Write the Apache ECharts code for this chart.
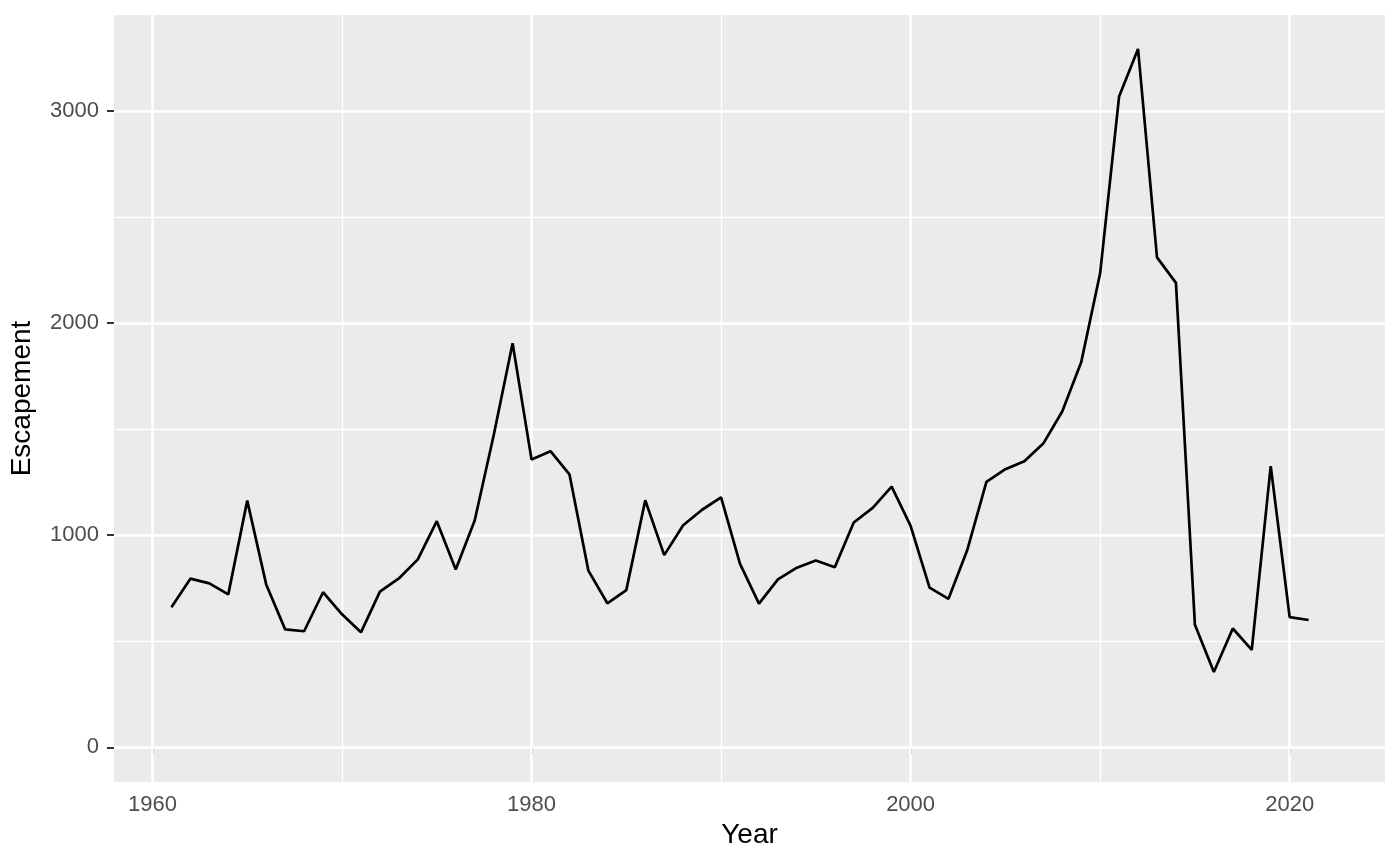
<!DOCTYPE html>
<html>
<head>
<meta charset="utf-8">
<script src="https://cdn.jsdelivr.net/npm/echarts@6/dist/echarts.min.js"></script>
<style>
html,body{margin:0;padding:0;background:#fff;}
#chart{width:1400px;height:866px;}
</style>
</head>
<body>
<div id="chart"></div>
<script>
const years = [1961,1962,1963,1964,1965,1966,1967,1968,1969,1970,
  1971,1972,1973,1974,1975,1976,1977,1978,1979,1980,
  1981,1982,1983,1984,1985,1986,1987,1988,1989,1990,
  1991,1992,1993,1994,1995,1996,1997,1998,1999,2000,
  2001,2002,2003,2004,2005,2006,2007,2008,2009,2010,
  2011,2012,2013,2014,2015,2016,2017,2018,2019,2020,2021];
const escapement = [660,795,773,721,1163,768,556,547,731,627,
  542,734,796,886,1066,838,1069,1470,1905,1357,
  1396,1287,833,679,741,1165,906,1047,1120,1178,
  865,677,792,847,881,849,1060,1129,1229,1044,
  753,700,933,1251,1311,1349,1432,1583,1815,2235,
  3068,3293,2310,2190,578,355,560,459,1326,614,600];
const xMajorTicks = [1960,1980,2000,2020];
const xMinorTicks = [1970,1990,2010];
const yMajorTicks = [0,1000,2000,3000];
const yMinorTicks = [500,1500,2500];

const chart = echarts.init(document.getElementById('chart'), null, {renderer:'canvas'});
const gridLines = [];
xMinorTicks.forEach(v => gridLines.push({xAxis:v, lineStyle:{color:'#ffffff', width:1.3, type:'solid'}}));
yMinorTicks.forEach(v => gridLines.push({yAxis:v, lineStyle:{color:'#ffffff', width:1.3, type:'solid'}}));
xMajorTicks.forEach(v => gridLines.push({xAxis:v, lineStyle:{color:'#ffffff', width:2.6, type:'solid'}}));
yMajorTicks.forEach(v => gridLines.push({yAxis:v, lineStyle:{color:'#ffffff', width:2.6, type:'solid'}}));

const axisFont = {fontFamily:'Liberation Sans, Arial, Helvetica, sans-serif'};
const plain = v => String(v);
chart.setOption({
  animation:false,
  grid:{left:114, top:15, right:15, bottom:84, show:true, backgroundColor:'#EBEBEB', borderWidth:0, containLabel:false, outerBoundsMode:'none'},
  xAxis:{
    type:'value', min:1957.97, max:2025.03,
    name:'Year', nameLocation:'middle', nameGap:38,
    nameTextStyle:Object.assign({color:'#000000', fontSize:28}, axisFont),
    axisLine:{show:false},
    axisTick:{show:true, length:7, customValues:xMajorTicks, lineStyle:{color:'#333333', width:2}},
    axisLabel:Object.assign({show:true, customValues:xMajorTicks, formatter:plain, margin:12, color:'#4D4D4D', fontSize:22}, axisFont),
    splitLine:{show:false}
  },
  yAxis:{
    type:'value', min:-163.7, max:3452.8,
    name:'Escapement', nameLocation:'middle', nameGap:78, nameRotate:90,
    nameTextStyle:Object.assign({color:'#000000', fontSize:28}, axisFont),
    axisLine:{show:false},
    axisTick:{show:true, length:7, customValues:yMajorTicks, lineStyle:{color:'#333333', width:2}},
    axisLabel:Object.assign({show:true, customValues:yMajorTicks, formatter:plain, margin:15, color:'#4D4D4D', fontSize:22}, axisFont),
    splitLine:{show:false}
  },
  series:[
    {
      type:'line', data:[], z:1, silent:true,
      markLine:{z:1, silent:true, symbol:['none','none'], label:{show:false}, animation:false, data:gridLines}
    },
    {
      type:'line', z:3,
      data: years.map((y,i) => [y, escapement[i]]),
      showSymbol:false, symbol:'none',
      lineStyle:{color:'#000000', width:2.7},
      itemStyle:{color:'#000000'}
    }
  ]
});
</script>
</body>
</html>
